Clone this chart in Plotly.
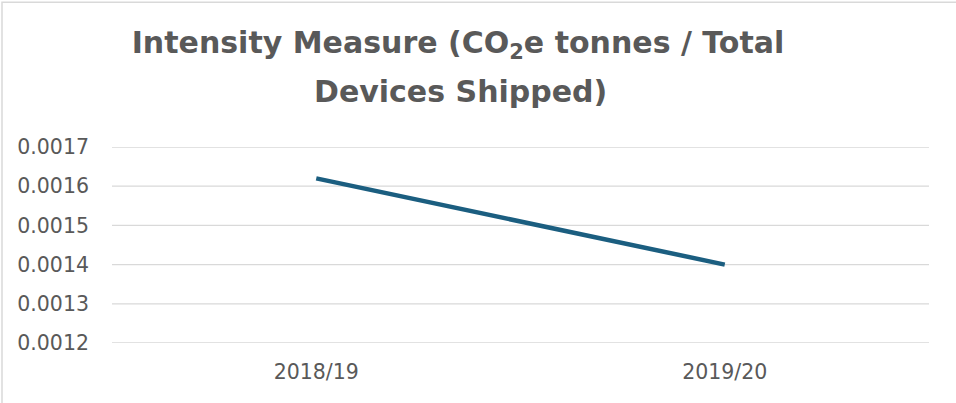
import plotly.graph_objects as go

categories = ["2018/19", "2019/20"]
intensity = [0.00162, 0.00140]
y_ticks = [0.0012, 0.0013, 0.0014, 0.0015, 0.0016, 0.0017]
y_tick_labels = ["0.0012", "0.0013", "0.0014", "0.0015", "0.0016", "0.0017"]

W, H = 956, 403
L, R = 112, 929
T, B = 146.7, 342.7

def px_x(x):
    return (x - L) / (R - L)

def px_y(y):
    return (B - y) / (B - T)

title_font = dict(family="DejaVu Sans", size=30, color="#595959", weight="bold")
tick_font = dict(family="DejaVu Sans", size=20.5, color="#595959")

fig = go.Figure()
fig.add_trace(go.Scatter(
    x=[0, 1], y=intensity, mode="lines",
    line=dict(color="#1B5E80", width=4.5),
    hoverinfo="skip", showlegend=False,
))

grid_shapes = [dict(
    type="line", xref="paper", yref="y", x0=0, x1=1, y0=v, y1=v,
    line=dict(color="#D9D9D9", width=1.3), layer="below",
) for v in y_ticks]

fig.update_layout(
    width=W, height=H,
    margin=dict(l=L, r=W - R, t=T, b=H - B, pad=0),
    paper_bgcolor="white", plot_bgcolor="white",
    showlegend=False,
    title=dict(
        text="Intensity Measure (CO<sub>2</sub>e tonnes / Total",
        font=title_font,
        x=458 / W, xanchor="center", xref="container",
        y=1 - 42 / H, yanchor="middle", yref="container",
    ),
    xaxis=dict(
        tickmode="array", tickvals=[0, 1], ticktext=categories,
        range=[-0.5, 1.5], showgrid=False, zeroline=False, showline=False,
        ticks="", tickfont=tick_font,
        ticklabelstandoff=14,
    ),
    yaxis=dict(
        tickmode="array", tickvals=y_ticks, ticktext=y_tick_labels,
        range=[y_ticks[0], y_ticks[-1]], showgrid=False,
        zeroline=False, showline=False, ticks="",
        tickfont=tick_font,
        ticklabelstandoff=22,
    ),
    annotations=[dict(
        text="Devices Shipped)", showarrow=False,
        xref="paper", yref="paper", x=px_x(460), y=px_y(91),
        xanchor="center", yanchor="middle",
        font=title_font,
    )],
    shapes=grid_shapes + [dict(
        type="rect", xref="paper", yref="paper",
        x0=px_x(2), x1=px_x(970), y0=px_y(450), y1=px_y(2),
        line=dict(color="#D9D9D9", width=1.5), fillcolor="rgba(0,0,0,0)", layer="below",
    )],
)

fig.write_html(
    "out.html",
    config={"displayModeBar": False},
    post_script="document.body.style.margin='0';document.body.style.overflow='hidden';",
)
